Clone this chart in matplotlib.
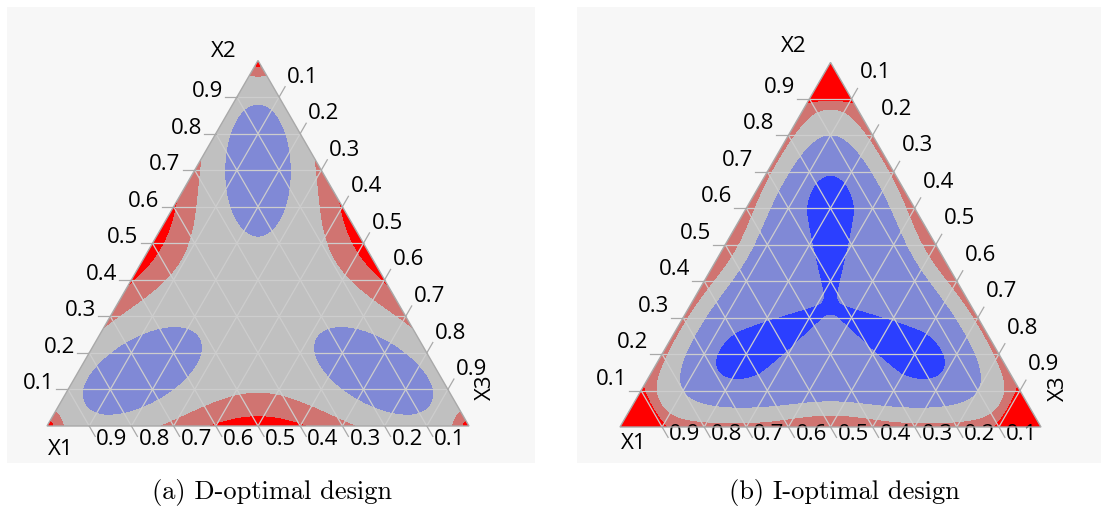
import numpy as np
import matplotlib
matplotlib.use("Agg")
import matplotlib.pyplot as plt
from matplotlib.patches import Polygon

S3 = np.sqrt(3) / 2

# 刻度与文字
grid_vals = [0.1, 0.2, 0.3, 0.4, 0.5, 0.6, 0.7, 0.8, 0.9]
grid_labels = ["0.1", "0.2", "0.3", "0.4", "0.5", "0.6", "0.7", "0.8", "0.9"]
corner_names = ["X1", "X2", "X3"]
captions = ["(a) D-optimal design", "(b) I-optimal design"]

# 方差等级的分段与颜色
band_edges = [-5, 0, 1, 2, 3, 20]
band_colors = ["#2b3fff", "#8089d6", "#c0c0c0", "#d07471", "#ff0000"]

# D-optimal 方差曲面参数
d_base = 1.5
d_edge = [2.31, 0.197, 1.5, 0.051]                 # 高度, 沿边宽度, 形状指数, 向内衰减
d_vertex = [2.45, 0.026]                           # 高度, 衰减
d_pocket = [1.55, 0.326, 0.163, 0.163, 0.0877, 100.0]  # 深度, 离重心距离, 外/内半长, 半宽, 收窄

# I-optimal 方差曲面参数
i_base = 0.3
i_rim = [2.4, 12.6, 0.755, 0.22]                   # 高度, 边缘锐度, 中点, 展宽
i_edge = [0.423, 0.34, 8.0, 0.0525]
i_cap = [3.0, 0.908, 0.012]                        # 顶角: 高度, 位置, 宽度
i_pocket = [1.2, 0.225, 0.096, 0.30, 0.06, 0.30]

VERTS = np.array([[0.0, 0.0], [0.5, S3], [1.0, 0.0]])   # X1, X2, X3
CENTER = VERTS.mean(axis=0)


def to_ternary(x, y):
    x2 = y / S3
    x3 = x - x2 / 2
    x1 = 1 - x2 - x3
    return [x1, x2, x3]


def edge_term(t, height, width, power, decay):
    out = 0
    for i in range(3):
        j, k = [m for m in range(3) if m != i]
        v = np.clip(t[i], 0, None) * S3
        u = (t[j] - t[k]) / 2
        out = out + height * np.exp(-v / decay) / (1 + (u / width) ** 2) ** power
    return out


def vertex_term(x, y, height, decay):
    out = 0
    for vx, vy in VERTS:
        r = np.hypot(x - vx, y - vy)
        out = out + height * np.exp(-r / decay)
    return out


def pocket_term(x, y, depth, offset, a_out, a_in, half_w, taper):
    out = 0
    for vert in VERTS:
        d = (vert - CENTER) / np.linalg.norm(vert - CENTER)
        cx, cy = CENTER + offset * d
        dpar = (x - cx) * d[0] + (y - cy) * d[1]
        dperp = -(x - cx) * d[1] + (y - cy) * d[0]
        a = np.where(dpar > 0, a_out, a_in)
        # 朝重心方向逐渐收窄, 过了重心就截断
        b = half_w * np.clip(1 + np.minimum(dpar, 0) / taper, 0.15, 1)
        cut = np.exp(-(np.minimum(dpar + offset, 0) / 0.012) ** 2)
        out = out + depth * cut * np.exp(-(dpar / a) ** 2 - (dperp / b) ** 2)
    return out


def cap_term(t, height, pos, w):
    out = 0
    for ti in t:
        z = np.clip((ti - pos) / w, -50, 50)
        out = out + height / (1 + np.exp(-z))
    return out


def surface_d(x, y):
    t = to_ternary(x, y)
    return (d_base + edge_term(t, *d_edge) + vertex_term(x, y, *d_vertex)
            - pocket_term(x, y, *d_pocket))


def surface_i(x, y):
    t = to_ternary(x, y)
    height, sharp, mid, spread = i_rim
    rim = sum(np.exp(-sharp * np.clip(ti, -0.1, None)) for ti in t)
    rim = rim + edge_term(t, *i_edge)
    z = np.clip((rim - mid) / spread, -50, 50)
    f = i_base + height / (1 + np.exp(-z))
    return f + cap_term(t, *i_cap) - pocket_term(x, y, *i_pocket)


W, H = 1101, 511
fig = plt.figure(figsize=(W / 100, H / 100), dpi=100)
fig.patch.set_facecolor("white")

# 面板像素框 (x0, y0, x1, y1), 三角形 (左, 右, 底边 y), 标签上移像素
panels = [
    dict(box=(7, 7, 535, 463), tri=(47, 469, 426), lift=0, surf=surface_d,
         x2pos=(-34, 9), x1pos=(14, -23), x3pos=(16, 39)),
    dict(box=(577, 7, 1101, 463), tri=(620, 1041, 427), lift=6, surf=surface_i,
         x2pos=(-37, 16), x1pos=(14, -16), x3pos=(17, 39)),
]

xs = np.linspace(-0.02, 1.02, 900)
ys = np.linspace(-0.02, 0.89, 800)
XX, YY = np.meshgrid(xs, ys)

font = "Open Sans"
fs = 16
line_col = "#cdcdcd"
tick_col = "#a9a9a9"

for n, p in enumerate(panels):
    x0, y0, x1, y1 = p["box"]
    tl, tr, base = p["tri"]
    sc = tr - tl
    ax = fig.add_axes([x0 / W, 1 - y1 / H, (x1 - x0) / W, (y1 - y0) / H])
    ax.set_xlim((x0 - tl) / sc, (x1 - tl) / sc)
    ax.set_ylim((base - y1) / sc, (base - y0) / sc)
    ax.set_facecolor("#f7f7f7")
    ax.set_xticks([])
    ax.set_yticks([])
    for s in ax.spines.values():
        s.set_visible(False)

    F = np.clip(p["surf"](XX, YY), -4.9, 19.9)
    tri = Polygon(VERTS, closed=True, facecolor="none", edgecolor=tick_col,
                  lw=1.0, zorder=4)
    ax.add_patch(tri)
    cs = ax.contourf(XX, YY, F, levels=band_edges, colors=band_colors, zorder=1)
    cs.set_clip_path(tri)

    px = 1.0 / sc
    L = 12 * px
    lift = p["lift"] * px
    for v, lab in zip(grid_vals, grid_labels):
        # X2 = v 水平线
        a = np.array([v / 2, v * S3])
        b = np.array([1 - v / 2, v * S3])
        ax.plot([a[0], b[0]], [a[1], b[1]], color=line_col, lw=0.9, zorder=2)
        e = a + L * np.array([-1.0, 0.0])
        ax.plot([a[0], e[0]], [a[1], e[1]], color=tick_col, lw=0.9, zorder=2)
        ax.text(e[0] - 2 * px, e[1] + lift, lab, ha="right", va="baseline",
                fontsize=fs, family=font)

        # X3 = v, 平行于左边
        a = np.array([v, 0.0])
        b = np.array([(1 + v) / 2, (1 - v) * S3])
        ax.plot([a[0], b[0]], [a[1], b[1]], color=line_col, lw=0.9, zorder=2)
        e = b + L * np.array([0.5, S3])
        ax.plot([b[0], e[0]], [b[1], e[1]], color=tick_col, lw=0.9, zorder=2)
        ax.text(e[0] + 2 * px, e[1] + 4 * px + lift, lab, ha="left",
                va="baseline", fontsize=fs, family=font)

        # X1 = v, 平行于右边
        a = np.array([(1 - v) / 2, (1 - v) * S3])
        b = np.array([1 - v, 0.0])
        ax.plot([a[0], b[0]], [a[1], b[1]], color=line_col, lw=0.9, zorder=2)
        e = b + L * np.array([0.5, -S3])
        ax.plot([b[0], e[0]], [b[1], e[1]], color=tick_col, lw=0.9, zorder=2)
        ax.text(e[0] + 1 * px, e[1] - 1 * px + lift, lab, ha="left",
                va="center_baseline", fontsize=fs, family=font)

    ox, oy = p["x2pos"]
    ax.text(0.5 + ox * px, S3 + oy * px, corner_names[1], ha="center",
            va="center", fontsize=fs, family=font)
    ox, oy = p["x1pos"]
    ax.text(ox * px, oy * px, corner_names[0], ha="center", va="center",
            fontsize=fs, family=font)
    ox, oy = p["x3pos"]
    ax.text(1 + ox * px, oy * px, corner_names[2], ha="center", va="center",
            rotation=90, fontsize=fs, family=font)

fig.text(272 / W, 1 - 492 / H, captions[0], ha="center", va="center",
         fontsize=19, family="cmr10")
fig.text(844 / W, 1 - 492 / H, captions[1], ha="center", va="center",
         fontsize=19, family="cmr10")

fig.savefig("out.png", dpi=100, facecolor="white")
